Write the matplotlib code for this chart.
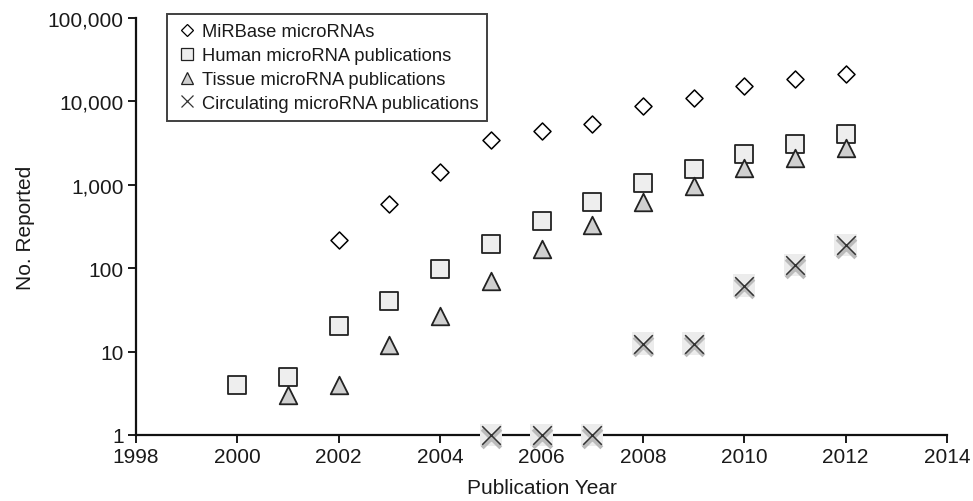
import matplotlib
matplotlib.use("Agg")
import matplotlib.pyplot as plt
from matplotlib.lines import Line2D
from matplotlib.ticker import FuncFormatter

plt.rcParams['font.family'] = ['Liberation Sans', 'DejaVu Sans']

# data
years_mirbase = [2002, 2003, 2004, 2005, 2006, 2007, 2008, 2009, 2010, 2011, 2012]
mirbase = [218, 590, 1440, 3400, 4470, 5400, 8700, 10900, 15200, 18500, 21600]

years_human = [2000, 2001, 2002, 2003, 2004, 2005, 2006, 2007, 2008, 2009, 2010, 2011, 2012]
human = [4, 5, 20, 40, 97, 195, 370, 625, 1050, 1550, 2350, 3100, 4100]

years_tissue = [2001, 2002, 2003, 2004, 2005, 2006, 2007, 2008, 2009, 2010, 2011, 2012]
tissue = [3, 4, 12, 27, 70, 170, 330, 625, 975, 1600, 2100, 2800]

years_circ = [2005, 2006, 2007, 2008, 2009, 2010, 2011, 2012]
circ = [1, 1, 1, 12.5, 12.5, 62, 109, 190]

labels = ["MiRBase microRNAs", "Human microRNA publications",
          "Tissue microRNA publications", "Circulating microRNA publications"]

fig = plt.figure(figsize=(9.73, 5.02), dpi=100)
ax = fig.add_axes([136/973, 1-436/502, 811/973, 417/502])

ax.scatter(years_mirbase, mirbase, marker='D', s=75, facecolor='white',
           edgecolor='black', linewidth=1.1, zorder=3)
ax.scatter(years_human, human, marker='s', s=150, facecolor='#eeeeee',
           edgecolor='#222222', linewidth=1.3, zorder=3)
ax.scatter(years_tissue, tissue, marker='^', s=160, facecolor='#d0d0d0',
           edgecolor='#222222', linewidth=1.3, zorder=4)
# circulating: x with soft grey shadow
ax.scatter(years_circ, circ, marker='s', s=260, facecolor='#ececec',
           edgecolor='none', zorder=4, clip_on=False)
ax.scatter(years_circ, [c * 0.93 for c in circ], marker='x', s=180, color='#bbbbbb',
           linewidth=3, zorder=5, clip_on=False)
ax.scatter(years_circ, circ, marker='x', s=180, color='#333333',
           linewidth=1.1, zorder=6, clip_on=False)

ax.set_yscale('log')
ax.set_ylim(1, 100000)
ax.set_xlim(1998, 2014)
ax.set_xticks(range(1998, 2015, 2))
ax.set_yticks([1, 10, 100, 1000, 10000, 100000])
ax.yaxis.set_minor_locator(matplotlib.ticker.NullLocator())
ax.yaxis.set_major_formatter(FuncFormatter(lambda v, p: f"{int(round(v)):,}"))

for s in ['top', 'right']:
    ax.spines[s].set_visible(False)
for s in ['left', 'bottom']:
    ax.spines[s].set_linewidth(1.6)
    ax.spines[s].set_color('#111111')
ax.tick_params(axis='both', direction='out', length=6, width=1.4,
               labelsize=15, colors='#1a1a1a', pad=3)

ax.set_xlabel("Publication Year", fontsize=15, labelpad=8, color='#1a1a1a')
ax.set_ylabel("No. Reported", fontsize=15, labelpad=9, color='#1a1a1a')

handles = [
    Line2D([], [], ls='none', marker='D', ms=6, mfc='white', mec='black', mew=0.9),
    Line2D([], [], ls='none', marker='s', ms=8, mfc='#eeeeee', mec='#222222', mew=0.9),
    Line2D([], [], ls='none', marker='^', ms=8, mfc='#d0d0d0', mec='#222222', mew=0.9),
    Line2D([], [], ls='none', marker='x', ms=8, color='#333333', mew=0.9),
]
leg = ax.legend(handles, labels, loc='upper left', bbox_to_anchor=(0.038, 1.01),
                fontsize=13.2, frameon=True, fancybox=False, borderpad=0.5,
                handletextpad=0.2, handlelength=1.2, labelspacing=0.38,
                borderaxespad=0)
for t in leg.get_texts():
    t.set_color('#1a1a1a')
leg.get_frame().set_edgecolor('#111111')
leg.get_frame().set_linewidth(1.4)

fig.savefig("out.png", dpi=100)
